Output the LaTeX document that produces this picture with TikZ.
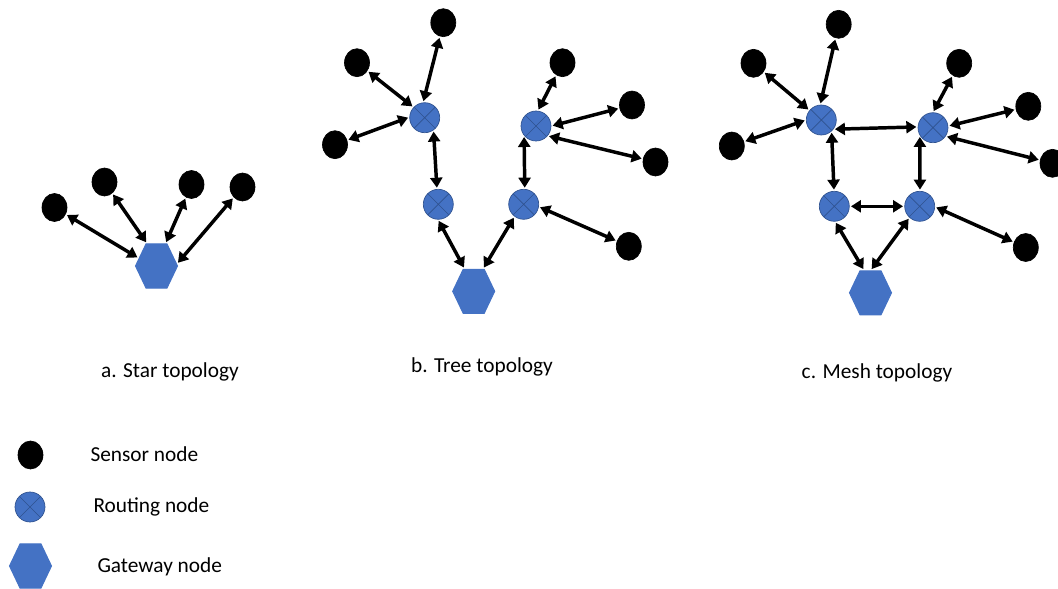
\documentclass[tikz,border=0pt]{standalone}
\usepackage{fontspec}
\setmainfont{Carlito}
\usetikzlibrary{shapes.geometric,arrows.meta}

\definecolor{hubblue}{RGB}{68,114,196}
\definecolor{hubedge}{RGB}{47,82,143}

\tikzset{every picture/.style={line width=0.75pt}}
\tikzset{
  sensor/.style={ellipse, fill=black, draw=black, line width=0.5pt, minimum width=18.75pt, minimum height=21pt, inner sep=0pt},
  router/.style={circle, fill=hubblue, draw=hubedge, line width=0.5pt, minimum size=22.5pt, inner sep=0pt,
    path picture={\draw[hubedge, line width=0.5pt] (path picture bounding box.north west) -- (path picture bounding box.south east) (path picture bounding box.south west) -- (path picture bounding box.north east);}},
  gateway/.style={regular polygon, regular polygon sides=6, fill=hubblue, draw=hubblue, minimum size=31.5pt, inner sep=0pt, transform shape, yscale=-1.21},
  link/.style={<->, >={Triangle[length=7.5pt,width=9pt]}, line width=2.6pt, shorten >=1pt, shorten <=1pt},
  caption/.style={font=\fontsize{16}{19}\selectfont, inner sep=0.75pt}
}

\begin{document}
\begin{tikzpicture}[x=0.75pt,y=0.75pt,yscale=-1,xscale=1]
\useasboundingbox (0,0) rectangle (1058,589);

%Star topology
\node [gateway] (ga) at (156.5,266) {};
\node [sensor] (a1) at (54.5,207.5) {};
\node [sensor] (a2) at (104.5,182) {};
\node [sensor] (a3) at (191.5,184.5) {};
\node [sensor] (a4) at (242.5,187) {};
\draw [link] (a1) -- (ga.160);
\draw [link] (a2) -- (ga.117);
\draw [link] (a3) -- (ga.64);
\draw [link] (a4) -- (ga.5);

%Tree topology
\node [gateway] (gb) at (473.7,291.3) {};
\node [router] (rb1) at (424.7,117.7) {};
\node [router] (rb2) at (536,126) {};
\node [router] (rb3) at (438.3,204.3) {};
\node [router] (rb4) at (523.7,204.3) {};
\node [sensor] (b1) at (443.3,22.7) {};
\node [sensor] (b2) at (357,62.7) {};
\node [sensor] (b3) at (335,144.7) {};
\node [sensor] (b4) at (562.5,62.7) {};
\node [sensor] (b5) at (632,105) {};
\node [sensor] (b6) at (655.5,162) {};
\node [sensor] (b7) at (628.8,246.3) {};
\draw [link] (b1) -- (rb1.96);
\draw [link] (b2) -- (rb1.137);
\draw [link] (b3) -- (rb1.178);
\draw [link] (rb1.-55) -- (rb3.95);
\draw [link] (rb3.-91) -- (gb.116);
\draw [link] (rb4.-127) -- (gb.63);
\draw [link] (rb4.86) -- (rb2.-141);
\draw [link] (rb2.83) -- (b4);
\draw [link] (rb2.0) -- (b5);
\draw [link] (rb2.-40) -- (b6);
\draw [link] (rb4.-9) -- (b7);

%Mesh topology
\node [gateway] (gc) at (870.5,292.8) {};
\node [router] (rc1) at (821.3,120) {};
\node [router] (rc2) at (933,127.7) {};
\node [router] (rc3) at (834.3,206.3) {};
\node [router] (rc4) at (919.7,206.3) {};
\node [sensor] (c1) at (838.7,24.3) {};
\node [sensor] (c2) at (753.5,63.3) {};
\node [sensor] (c3) at (731.8,146) {};
\node [sensor] (c4) at (959.2,63.3) {};
\node [sensor] (c5) at (1028.3,106.3) {};
\node [sensor] (c6) at (1052.5,163.3) {};
\node [sensor] (c7) at (1025.8,247.5) {};
\draw [link] (c1) -- (rc1.94);
\draw [link] (c2) -- (rc1.141);
\draw [link] (c3) -- (rc1.180);
\draw [link] (rc1.-37) -- (rc2.177);
\draw [link] (rc1.-48) -- (rc3.91);
\draw [link] (rc2.-149) -- (rc4.89);
\draw [link] (rc3.0) -- (rc4.180);
\draw [link] (rc3.-87) -- (gc.109);
\draw [link] (rc4.-132) -- (gc.89);
\draw [link] (rc2.90) -- (c4);
\draw [link] (rc2.6) -- (c5);
\draw [link] (rc2.-34) -- (c6);
\draw [link] (rc4.-2) -- (c7);

% Text Node
\draw (170,372) node [caption] (capa) {a. Star topology};
% Text Node
\draw (482,367) node [caption] (capb) {b. Tree topology};
% Text Node
\draw (877,373) node [caption] (capc) {c. Mesh topology};

%Legend
\node [sensor] (keys) at (30.5,455) {};
\node [router] (keyr) at (30,507) {};
\node [gateway] (keyg) at (30.5,566) {};
% Text Node
\draw (89,454) node [caption, anchor=west] (txts) {Sensor node};
% Text Node
\draw (92,507) node [caption, anchor=west] (txtr) {Routing node};
% Text Node
\draw (96,567) node [caption, anchor=west] (txtg) {Gateway node};

\end{tikzpicture}
\end{document}
